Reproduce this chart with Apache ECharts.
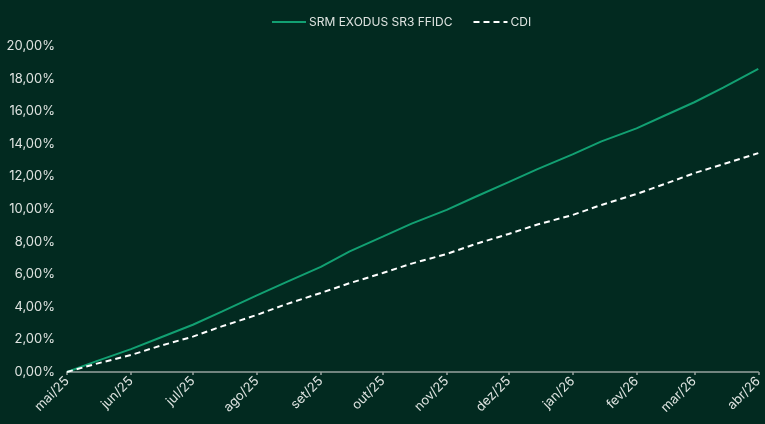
<!DOCTYPE html>
<html>
<head>
<meta charset="utf-8">
<script src="https://cdn.jsdelivr.net/npm/echarts@6/dist/echarts.min.js"></script>
<style>
  html, body { margin: 0; padding: 0; background: #022a20; }
  #chart { width: 765px; height: 424px; }
</style>
</head>
<body>
<div id="chart"></div>
<script>
// datas (inicio e meio de cada mes)
const dates = [
  '2025-05-01', '2025-05-15', '2025-06-01', '2025-06-15', '2025-07-01', '2025-07-15',
  '2025-08-01', '2025-08-15', '2025-09-01', '2025-09-15', '2025-10-01', '2025-10-15',
  '2025-11-01', '2025-11-15', '2025-12-01', '2025-12-15', '2026-01-01', '2026-01-15',
  '2026-02-01', '2026-02-15', '2026-03-01', '2026-03-15', '2026-04-01'
];
const srmValues = [
  0.00, 0.65, 1.40, 2.10, 2.90, 3.70,
  4.70, 5.50, 6.45, 7.40, 8.30, 9.10,
  9.95, 10.75, 11.65, 12.45, 13.35, 14.15,
  14.95, 15.75, 16.55, 17.45, 18.59
];
const cdiValues = [
  0.00, 0.50, 1.04, 1.60, 2.17, 2.80,
  3.50, 4.15, 4.85, 5.45, 6.07, 6.65,
  7.24, 7.85, 8.47, 9.05, 9.63, 10.25,
  10.92, 11.55, 12.20, 12.75, 13.43
];
const monthStarts = [
  '2025-05-01', '2025-06-01', '2025-07-01', '2025-08-01', '2025-09-01', '2025-10-01',
  '2025-11-01', '2025-12-01', '2026-01-01', '2026-02-01', '2026-03-01', '2026-04-01'
];
const monthLabels = [
  'mai/25', 'jun/25', 'jul/25', 'ago/25', 'set/25', 'out/25',
  'nov/25', 'dez/25', 'jan/26', 'fev/26', 'mar/26', 'abr/26'
];

function toTime(s) {
  const p = s.split('-');
  return new Date(+p[0], +p[1] - 1, +p[2]).getTime();
}

const tickTimes = monthStarts.map(toTime);
const chart = echarts.init(document.getElementById('chart'));
const textColor = '#dfe4e1';

chart.setOption({
  backgroundColor: '#022a20',
  animation: false,
  legend: {
    top: 11,
    left: 266,
    itemWidth: 34,
    itemHeight: 14,
    itemGap: 20,
    itemStyle: { opacity: 0 },
    textStyle: { color: textColor, fontSize: 12, fontFamily: 'Inter', padding: [0, 0, 0, -2] },
    data: ['SRM EXODUS SR3 FFIDC', 'CDI']
  },
  grid: { left: 67, right: 2, top: 46, bottom: 52 },
  xAxis: {
    type: 'value',
    min: tickTimes[0],
    max: tickTimes[tickTimes.length - 1],
    axisLine: { lineStyle: { color: '#98a39e', width: 1.5 } },
    axisTick: {
      show: true,
      length: 3,
      customValues: tickTimes,
      lineStyle: { color: '#98a39e', width: 1.5 }
    },
    axisLabel: {
      rotate: 45,
      color: textColor,
      fontSize: 13,
      fontFamily: 'Inter',
      margin: 7,
      customValues: tickTimes,
      formatter: function (v) {
        const i = tickTimes.indexOf(v);
        return i >= 0 ? monthLabels[i] : '';
      }
    },
    splitLine: { show: false }
  },
  yAxis: {
    type: 'value',
    min: 0,
    max: 20,
    interval: 2,
    axisLine: { show: false },
    axisTick: { show: false },
    splitLine: { show: false },
    axisLabel: {
      color: textColor,
      fontSize: 13,
      fontFamily: 'Inter',
      margin: 12,
      formatter: function (v) {
        return v.toFixed(2).replace('.', ',') + '%';
      }
    }
  },
  series: [
    {
      name: 'SRM EXODUS SR3 FFIDC',
      type: 'line',
      symbol: 'none',
      color: '#12a072',
      lineStyle: { width: 2, color: '#12a072' },
      data: dates.map(function (d, i) { return [toTime(d), srmValues[i]]; })
    },
    {
      name: 'CDI',
      type: 'line',
      symbol: 'none',
      color: '#ffffff',
      lineStyle: { width: 2, color: '#ffffff', type: [6, 4] },
      data: dates.map(function (d, i) { return [toTime(d), cdiValues[i]]; })
    }
  ]
});
</script>
</body>
</html>
